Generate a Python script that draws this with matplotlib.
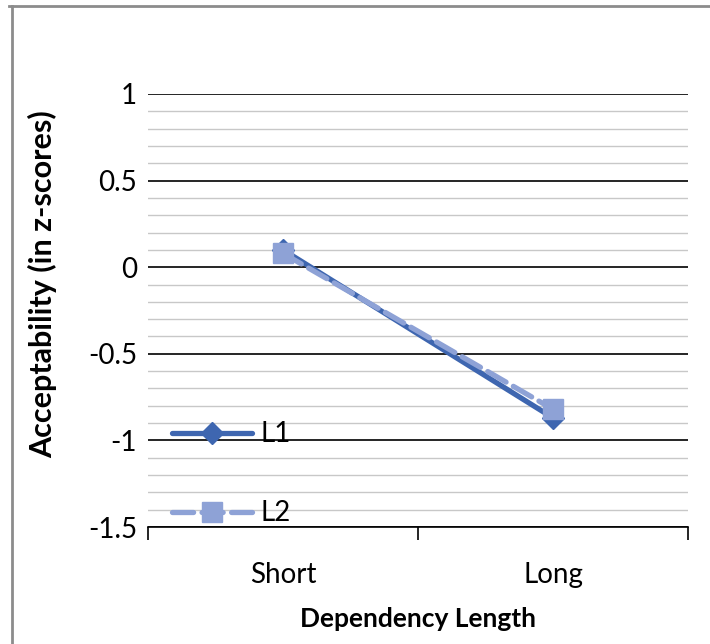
import matplotlib.pyplot as plt
from matplotlib.lines import Line2D
from matplotlib.ticker import MultipleLocator

plt.rcParams['font.family'] = ['Lato', 'DejaVu Sans']

categories = ["Short", "Long"]
l1_values = [0.10, -0.87]
l2_values = [0.08, -0.82]

fig = plt.figure(figsize=(7.10, 6.44), dpi=100)
ax = fig.add_axes([148 / 710, 1 - 527 / 644, 540 / 710, 433 / 644])

x = [0.5, 1.5]
ax.plot(x, l1_values, color="#3E66B0", lw=3.8, marker="D", ms=11,
        solid_capstyle="round", label="L1", zorder=3)
ax.plot(x, l2_values, color="#8EA2D6", lw=3.8, marker="s", ms=15,
        dashes=(4, 1.6), dash_capstyle="round", label="L2", zorder=4)

ax.set_xlim(0, 2)
ax.set_ylim(-1.5, 1)
ax.yaxis.set_minor_locator(MultipleLocator(0.1))
ax.set_yticks([1, 0.5, 0, -0.5, -1, -1.5])
ax.set_yticklabels(["1", "0.5", "0", "-0.5", "-1", "-1.5"], fontsize=20)
ax.grid(which="major", axis="y", color="black", lw=1.2)
ax.grid(which="minor", axis="y", color="#c8c8c8", lw=1.0)
ax.tick_params(axis="y", which="both", length=0, pad=8)

ax.set_xticks([0, 1, 2])
ax.set_xticklabels([])
ax.set_xticks(x, minor=True)
ax.set_xticklabels(categories, minor=True, fontsize=20)
ax.tick_params(axis="x", which="major", length=9, width=1.2, direction="out")
ax.tick_params(axis="x", which="minor", length=0, pad=25)

for side in ("top", "right", "left"):
    ax.spines[side].set_visible(False)
ax.spines["bottom"].set_linewidth(1.2)

ax.set_xlabel("Dependency Length", fontsize=19, fontweight="bold", labelpad=14)
ax.set_ylabel("Acceptability (in z-scores)", fontsize=22, fontweight="bold")
ax.yaxis.set_label_coords(-0.168, 0.56)

ax.legend(loc="lower left", bbox_to_anchor=(-0.002, -0.056), frameon=False,
          fontsize=20, handlelength=2.9, labelspacing=1.9, handletextpad=0.3)

# outer frame edges
fig.add_artist(Line2D([12 / 710, 12 / 710], [0, 1 - 6 / 644], color="#8c8c8c", lw=2))
fig.add_artist(Line2D([9 / 710, 1], [1 - 6 / 644, 1 - 6 / 644], color="#8c8c8c", lw=2))

fig.savefig("out.png", dpi=100)
